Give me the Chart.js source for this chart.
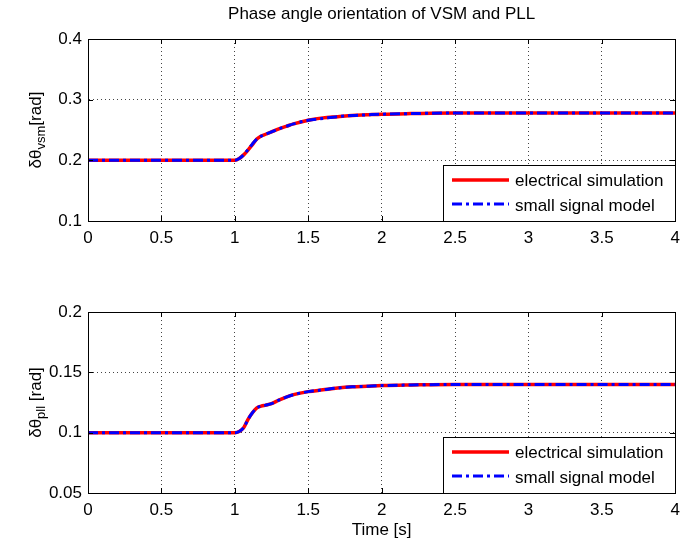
<!DOCTYPE html>
<html><head><meta charset="utf-8">
<script src="https://cdn.jsdelivr.net/npm/chart.js@4"></script>
<style>
html,body{margin:0;padding:0;background:#fff;}
#wrap{position:relative;width:687px;height:545px;overflow:hidden;background:#fff}
canvas{position:absolute;left:0}
</style></head><body>
<div id="wrap">
<canvas id="c1" width="687" height="272" style="top:0px"></canvas>
<canvas id="c2" width="687" height="273" style="top:272px"></canvas>
</div>
<script>
const timeS = [0, 0.5, 1.0, 1.03, 1.06, 1.09, 1.12, 1.15, 1.18, 1.21, 1.25, 1.3, 1.35, 1.4, 1.5, 1.6, 1.7, 1.8, 1.9, 2.0, 2.2, 2.5, 3.0, 3.5, 4.0];
const vsmElectrical  = [0.2, 0.2, 0.2, 0.203, 0.209, 0.217, 0.226, 0.235, 0.240, 0.243, 0.247, 0.252, 0.256, 0.260, 0.266, 0.270, 0.272, 0.274, 0.275, 0.276, 0.277, 0.278, 0.278, 0.278, 0.278];
const vsmSmallSignal = [0.2, 0.2, 0.2, 0.203, 0.209, 0.218, 0.227, 0.235, 0.240, 0.243, 0.247, 0.252, 0.256, 0.260, 0.266, 0.269, 0.272, 0.274, 0.275, 0.276, 0.277, 0.278, 0.278, 0.278, 0.278];
const pllElectrical  = [0.1, 0.1, 0.1, 0.101, 0.104, 0.111, 0.1165, 0.1205, 0.122, 0.1228, 0.124, 0.127, 0.1295, 0.1315, 0.134, 0.1355, 0.137, 0.138, 0.1385, 0.139, 0.1395, 0.14, 0.14, 0.14, 0.14];
const pllSmallSignal = [0.1, 0.1, 0.1, 0.101, 0.104, 0.111, 0.1165, 0.1205, 0.122, 0.1228, 0.124, 0.127, 0.1295, 0.1315, 0.134, 0.1355, 0.137, 0.138, 0.1385, 0.139, 0.1395, 0.14, 0.14, 0.14, 0.14];
const xTicks = [0, 0.5, 1, 1.5, 2, 2.5, 3, 3.5, 4];
const yTicksVsm = [0.1, 0.2, 0.3, 0.4];
const yTicksPll = [0.05, 0.1, 0.15, 0.2];
const seriesNames = ['electrical simulation', 'small signal model'];
const titleText = 'Phase angle orientation of VSM and PLL';
const xTitle = 'Time [s]';
const yTitleVsm = ['δθ', 'vsm', '[rad]'];
const yTitlePll = ['δθ', 'pll', ' [rad]'];

const FONT = "'Liberation Sans', Arial, Helvetica, sans-serif";
const RED = '#ff0000', BLUE = '#0000ff';
const DASHDOT = [10, 4, 3, 4];

function pts(xs, ys) { return xs.map((x, i) => ({ x: x, y: ys[i] })); }

function makeChart(id, o) {
  const deco = {
    id: 'deco',
    afterDraw(chart) {
      const ctx = chart.ctx, a = chart.chartArea;
      const xs = chart.scales.x, ys = chart.scales.y;
      ctx.save();
      ctx.strokeStyle = '#000'; ctx.lineWidth = 1; ctx.setLineDash([]);
      const L = Math.round(a.left), T = Math.round(a.top), R = Math.round(a.right), B = Math.round(a.bottom);
      ctx.strokeRect(L + 0.5, T + 0.5, R - L, B - T);
      ctx.beginPath();
      xTicks.forEach(v => {
        const px = Math.round(xs.getPixelForValue(v)) + 0.5;
        ctx.moveTo(px, B); ctx.lineTo(px, B - 5);
        ctx.moveTo(px, T); ctx.lineTo(px, T + 5);
      });
      o.yTicks.forEach(v => {
        const py = Math.round(ys.getPixelForValue(v)) + 0.5;
        ctx.moveTo(L, py); ctx.lineTo(L + 5, py);
        ctx.moveTo(R, py); ctx.lineTo(R - 5, py);
      });
      ctx.stroke();
      // legend
      const bw = 232, bh = 56, bx = R - bw, by = B - bh;
      ctx.fillStyle = '#fff'; ctx.fillRect(bx, by, bw, bh);
      ctx.strokeRect(bx + 0.5, by + 0.5, bw, bh);
      ctx.lineWidth = 3.5; ctx.strokeStyle = RED;
      ctx.beginPath(); ctx.moveTo(bx + 9, by + 15); ctx.lineTo(bx + 66, by + 15); ctx.stroke();
      ctx.lineWidth = 3; ctx.strokeStyle = BLUE; ctx.setLineDash(DASHDOT);
      ctx.beginPath(); ctx.moveTo(bx + 9, by + 39); ctx.lineTo(bx + 66, by + 39); ctx.stroke();
      ctx.setLineDash([]);
      ctx.fillStyle = '#000'; ctx.font = '17px ' + FONT; ctx.textBaseline = 'middle'; ctx.textAlign = 'left';
      ctx.fillText(seriesNames[0], bx + 72, by + 16);
      ctx.fillText(seriesNames[1], bx + 72, by + 41);
      // y title
      const cy = (a.top + a.bottom) / 2;
      ctx.save();
      ctx.translate(41, cy); ctx.rotate(-Math.PI / 2);
      ctx.textBaseline = 'alphabetic';
      ctx.font = '17px ' + FONT; const w1 = ctx.measureText(o.yTitle[0]).width, w3 = ctx.measureText(o.yTitle[2]).width;
      ctx.font = '13px ' + FONT; const w2 = ctx.measureText(o.yTitle[1]).width;
      let x0 = -(w1 + w2 + w3) / 2;
      ctx.font = '17px ' + FONT; ctx.fillText(o.yTitle[0], x0, 0);
      ctx.font = '13px ' + FONT; ctx.fillText(o.yTitle[1], x0 + w1, 4);
      ctx.font = '17px ' + FONT; ctx.fillText(o.yTitle[2], x0 + w1 + w2, 0);
      ctx.restore();
      ctx.textAlign = 'center'; ctx.textBaseline = 'middle'; ctx.font = '17px ' + FONT;
      if (o.title) ctx.fillText(o.title, (a.left + a.right) / 2, 14);
      if (o.xTitle) ctx.fillText(o.xTitle, (a.left + a.right) / 2, a.bottom + 37);
      ctx.restore();
    }
  };
  return new Chart(document.getElementById(id), {
    type: 'line',
    data: {
      datasets: [
        { label: seriesNames[0], data: pts(timeS, o.red), borderColor: RED, borderWidth: 3.5, pointRadius: 0, cubicInterpolationMode: 'monotone', order: 2 },
        { label: seriesNames[1], data: pts(timeS, o.blue), borderColor: BLUE, borderWidth: 3, borderDash: DASHDOT, pointRadius: 0, cubicInterpolationMode: 'monotone', order: 1 }
      ]
    },
    options: {
      responsive: false, animation: false, devicePixelRatio: 1,
      layout: { padding: { left: 0, right: 9, top: o.top, bottom: 0 } },
      plugins: { legend: { display: false }, tooltip: { enabled: false }, title: { display: false } },
      scales: {
        x: {
          type: 'linear', min: 0, max: 4,
          afterBuildTicks: s => { s.ticks = xTicks.map(v => ({ value: v })); },
          afterFit: s => { s.height = o.xh; },
          ticks: { color: '#000', font: { family: FONT, size: 17 }, padding: 7, maxRotation: 0, autoSkip: false, callback: v => String(v) },
          grid: { color: '#444', lineWidth: 1, drawTicks: false },
          border: { display: true, color: '#000', width: 1, dash: [1, 3] }
        },
        y: {
          type: 'linear', min: o.yTicks[0], max: o.yTicks[o.yTicks.length - 1],
          afterBuildTicks: s => { s.ticks = o.yTicks.map(v => ({ value: v })); },
          afterFit: s => { s.width = 88; },
          ticks: { color: '#000', font: { family: FONT, size: 17 }, padding: 6, autoSkip: false, callback: v => String(v) },
          grid: { color: '#444', lineWidth: 1, drawTicks: false },
          border: { display: true, color: '#000', width: 1, dash: [1, 3] }
        }
      }
    },
    plugins: [deco]
  });
}

makeChart('c1', { red: vsmElectrical, blue: vsmSmallSignal, yTicks: yTicksVsm, yTitle: yTitleVsm, top: 39, xh: 51, title: titleText });
makeChart('c2', { red: pllElectrical, blue: pllSmallSignal, yTicks: yTicksPll, yTitle: yTitlePll, top: 40, xh: 52, xTitle: xTitle });
</script>
</body></html>
